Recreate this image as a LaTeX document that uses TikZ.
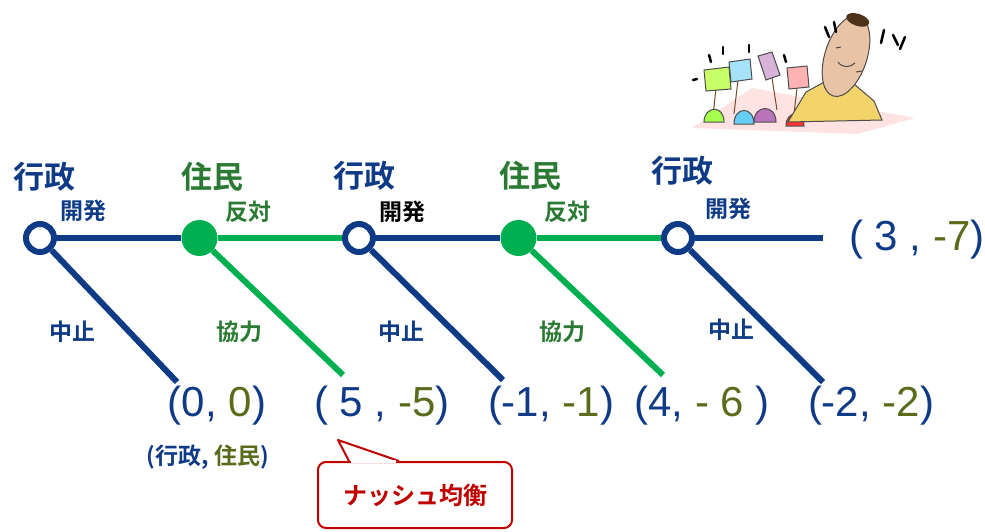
\documentclass[tikz,border=0pt]{standalone}
\usepackage{fontspec}
\setmainfont{Liberation Sans}
\newfontfamily\jp{Noto Sans CJK JP}[BoldFont={Noto Sans CJK JP Bold}]
\usetikzlibrary{shapes,positioning,calc}

\definecolor{gov}{HTML}{0E3A86}
\definecolor{res}{HTML}{00B050}
\definecolor{resdark}{HTML}{2B7A34}
\definecolor{olive}{HTML}{5A6B1C}
\definecolor{nash}{HTML}{C00000}
\definecolor{skin}{HTML}{E9C3A6}
\definecolor{shirt}{HTML}{F3D46A}

\tikzstyle{govnode} = [circle, draw=gov, fill=white, line width=6pt,
  minimum size=28pt, inner sep=0pt]
\tikzstyle{resnode} = [circle, fill=res, minimum size=36pt, inner sep=0pt]
\tikzstyle{govline} = [draw=gov, line width=6pt]
\tikzstyle{resline} = [draw=res, line width=6pt]
\tikzstyle{player} = [font=\jp\bfseries\fontsize{31}{31}\selectfont, inner sep=0pt]
\tikzstyle{move} = [font=\jp\bfseries\fontsize{23}{23}\selectfont, inner sep=0pt]
\tikzstyle{payoff} = [font=\fontsize{42}{42}\selectfont, text=gov, inner sep=0pt]
\tikzstyle{nashbox} = [rectangle, draw=nash, line width=2pt, fill=white,
  rounded corners=8pt, minimum width=194pt, minimum height=66pt,
  font=\jp\bfseries\fontsize{24}{24}\selectfont, text=nash]

\begin{document}
\begin{tikzpicture}[x=1pt, y=-1pt, node distance=159.5pt]
  \useasboundingbox (0,0) rectangle (985,531);

  % decision nodes
  \node [govnode] (g1) at (40,238) {};
  \node [resnode, right of=g1] (r1) {};
  \node [govnode, right of=r1] (g2) {};
  \node [resnode, right of=g2] (r2) {};
  \node [govnode, right of=r2] (g3) {};
  \coordinate (top) at (823,238);

  % ends of the stop / cooperate branches
  \coordinate (l1) at (177,382);
  \coordinate (l2) at (343,375);
  \coordinate (l3) at (503,380);
  \coordinate (l4) at (663,375);
  \coordinate (l5) at (823,382);

  \path [govline] (g1) -- (r1);
  \path [resline] (r1) -- (g2);
  \path [govline] (g2) -- (r2);
  \path [resline] (r2) -- (g3);
  \path [govline] (g3) -- (top);
  \path [govline] (g1) -- (l1);
  \path [resline] (r1) -- (l2);
  \path [govline] (g2) -- (l3);
  \path [resline] (r2) -- (l4);
  \path [govline] (g3) -- (l5);

  % players
  \node [player, text=gov] (p1) at (44,177) {行政};
  \node [player, text=resdark] (p2) at (212,177) {住民};
  \node [player, text=gov] (p3) at (364,176) {行政};
  \node [player, text=resdark] (p4) at (530,176) {住民};
  \node [player, text=gov] (p5) at (682,171) {行政};

  % moves
  \node [move, text=gov] (m1) at (83,211) {開発};
  \node [move, text=resdark] (m2) at (248,212) {反対};
  \node [move, text=black] (m3) at (402,212) {開発};
  \node [move, text=resdark] (m4) at (567,212) {反対};
  \node [move, text=gov] (m5) at (728,209) {開発};
  \node [move, text=gov] (s1) at (72,332) {中止};
  \node [move, text=resdark] (c1) at (239,332) {協力};
  \node [move, text=gov] (s2) at (401,332) {中止};
  \node [move, text=resdark] (c2) at (562,332) {協力};
  \node [move, text=gov] (s3) at (731,330) {中止};

  % payoffs
  \node [payoff] (v0) at (917,240) {( 3 , \textcolor{olive}{-7})};
  \node [payoff] (v1) at (217,406) {(0, \textcolor{olive}{0})};
  \node [payoff] (v2) at (382,406) {( 5 , \textcolor{olive}{-5})};
  \node [payoff] (v3) at (551,406) {(-1, \textcolor{olive}{-1})};
  \node [payoff] (v4) at (702,406) {(4, \textcolor{olive}{- 6} )};
  \node [payoff] (v5) at (871,406) {(-2, \textcolor{olive}{-2})};
  \node [font=\jp\bfseries\fontsize{23}{23}\selectfont, text=gov, inner sep=0pt]
    (key) at (208,457) {(行政, \textcolor{olive}{住民})};

  % callout
  \node [nashbox] (nash) at (415,495) {ナッシュ均衡};
  \coordinate (tip) at (338,440);
  \draw [draw=nash, line width=2pt, fill=white, line join=round]
    ($(nash.north west)+(32,0)$) -- (tip) -- ($(nash.north west)+(82,0)$);
  \draw [white, line width=3pt] ($(nash.north west)+(34,0)$) -- ($(nash.north west)+(79,0)$);

  % protest clip art
  \fill [pink!45] (692,128) -- (752,88) -- (915,118) -- (858,134) -- cycle;
  \begin{scope}[line width=1pt, draw=black!70]
    \draw [brown!60!black] (716,88) -- (713,116);
    \draw [brown!60!black] (738,80) -- (734,114);
    \draw [brown!60!black] (772,78) -- (777,110);
    \draw [brown!60!black] (797,88) -- (794,114);
    \filldraw [fill=green!35!yellow!60] (704,70) -- (729,67) -- (731,89) -- (706,91) -- cycle;
    \filldraw [fill=cyan!35] (729,62) -- (750,59) -- (752,79) -- (731,82) -- cycle;
    \filldraw [fill=violet!30] (758,56) -- (772,52) -- (780,75) -- (766,80) -- cycle;
    \filldraw [fill=red!30] (787,68) -- (807,66) -- (809,87) -- (789,89) -- cycle;
    \filldraw [fill=green!50!yellow!70] (704,122) .. controls (704,106) and (724,104) .. (724,122) -- cycle;
    \filldraw [fill=cyan!60] (734,124) .. controls (734,106) and (754,106) .. (754,124) -- cycle;
    \filldraw [fill=violet!55] (754,122) .. controls (754,104) and (776,104) .. (776,122) -- cycle;
    \filldraw [fill=red!80] (786,126) .. controls (786,110) and (804,110) .. (804,126) -- cycle;
    \filldraw [fill=shirt] (788,122) -- (806,92) -- (828,80) -- (854,84) -- (874,101) -- (882,120) -- cycle;
    \filldraw [fill=skin, rotate around={-18:(846,56)}] (846,56) ellipse (21 and 42);
    \fill [brown!40!black, rotate around={-18:(846,56)}] (846,18) ellipse (12 and 6);
    \draw (838,62) .. controls (842,68) and (850,68) .. (855,63);
    \draw (836,48) -- (841,47);
    \draw (856,72) -- (862,71);
  \end{scope}
  \begin{scope}[line width=2.5pt, line cap=round]
    \draw (825,27) -- (829,37);
    \draw (834,22) -- (836,32);
    \draw (884,30) -- (881,43);
    \draw (893,35) -- (898,45);
    \draw (905,37) -- (900,49);
    \draw (709,55) -- (711,62);
    \draw (723,47) -- (723,54);
    \draw (749,45) -- (749,52);
    \draw (784,55) -- (786,62);
    \draw (693,80) -- (697,79);
  \end{scope}
\end{tikzpicture}
\end{document}
